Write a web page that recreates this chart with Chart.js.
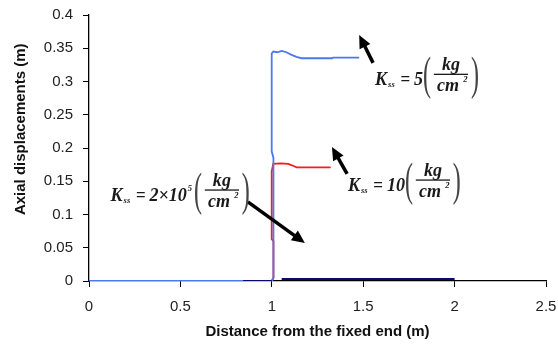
<!DOCTYPE html>
<html>
<head>
<meta charset="utf-8">
<script src="https://cdn.jsdelivr.net/npm/chart.js@4"></script>
<style>
html,body{margin:0;padding:0;background:#fff;}
#wrap{width:558px;height:345px;position:relative;}
</style>
</head>
<body>
<div id="wrap"><canvas id="c" width="558" height="345"></canvas></div>
<script>
// ---- data ----
const xTicks = [0, 0.5, 1, 1.5, 2, 2.5];
const yTicks = [0, 0.05, 0.1, 0.15, 0.2, 0.25, 0.3, 0.35, 0.4];

// K_ss = 5 kg/cm2 (blue)
const blueX = [0, 1.0, 1.009, 1.009, 0.9995, 0.9995, 1.008, 1.03, 1.054, 1.08, 1.108, 1.135, 1.163, 1.25, 1.33, 1.335, 1.478];
const blueY = [0, 0, 0.005, 0.185, 0.195, 0.342, 0.345, 0.344, 0.346, 0.344, 0.340, 0.337, 0.335, 0.335, 0.335, 0.336, 0.336];

// K_ss = 10 kg/cm2 (red)
const redX = [0, 1.0, 1.009, 1.009, 0.9995, 0.9995, 1.008, 1.05, 1.09, 1.11, 1.136, 1.2, 1.322];
const redY = [0, 0, 0.005, 0.06, 0.063, 0.165, 0.176, 0.177, 0.176, 0.174, 0.171, 0.171, 0.171];

// K_ss = 2x10^5 kg/cm2 (navy)
const navyX = [0.843, 1.0, 1.03, 1.054, 2.0];
const navyY = [0, 0, null, 0.003, 0.003];

// annotation anchors (data coordinates)
const eqAnchors = [
  {x: 1.565, y: 0.311, val: '5', exp: ''},
  {x: 1.417, y: 0.152, val: '10', exp: ''},
  {x: 0.118, y: 0.137, val: '2\u00D710', exp: '5'}
];
const arrows = [
  {x1: 1.554, y1: 0.328, x2: 1.478, y2: 0.370},
  {x1: 1.412, y1: 0.161, x2: 1.329, y2: 0.2015},
  {x1: 0.869, y1: 0.119, x2: 1.181, y2: 0.057}
];

function pts(xs, ys) { return xs.map((x, i) => ({x: x, y: ys[i]})); }

const SX = 0.95;
function drawEq(ctx, x0, yb, val, exp) {
  ctx.save();
  ctx.translate(x0, yb);
  ctx.scale(SX, 1);
  ctx.fillStyle = '#1a1a1a';
  ctx.textBaseline = 'alphabetic';
  ctx.textAlign = 'left';
  let x = 0;
  const big = 'italic bold 19px "Liberation Serif"';
  const small = 'italic bold 9px "Liberation Serif"';
  ctx.font = big;
  ctx.fillText('K', x, 11); x += ctx.measureText('K').width + 1;
  ctx.font = small;
  ctx.fillText('ss', x, 13); x += ctx.measureText('ss').width + 6;
  ctx.font = 'bold 18px "Liberation Serif"';
  ctx.fillText('=', x, 11); x += ctx.measureText('=').width + 4;
  ctx.font = big;
  ctx.fillText(val, x, 11); x += ctx.measureText(val).width;
  if (exp) {
    ctx.font = small;
    ctx.fillText(exp, x + 1, 1); x += ctx.measureText(exp).width + 3;
  }
  // left paren
  ctx.fillStyle = '#444';
  ctx.save();
  ctx.translate(x, 0);
  ctx.scale(0.55, 1);
  ctx.font = '46px "Liberation Serif"';
  ctx.fillText('(', 0, 15);
  const pw = ctx.measureText('(').width * 0.55;
  ctx.restore();
  x += pw + 3;
  // fraction
  ctx.fillStyle = '#1a1a1a';
  const fw = 36;
  ctx.fillRect(x, -0.5, fw, 1.3);
  ctx.font = big;
  ctx.textAlign = 'center';
  ctx.fillText('kg', x + fw / 2, -4);
  ctx.fillText('cm', x + fw / 2 - 3, 17);
  ctx.font = small;
  ctx.textAlign = 'left';
  ctx.fillText('2', x + fw / 2 + 13, 8);
  x += fw + 3;
  ctx.fillStyle = '#444';
  ctx.save();
  ctx.translate(x, 0);
  ctx.scale(0.55, 1);
  ctx.font = '46px "Liberation Serif"';
  ctx.fillText(')', 0, 15);
  ctx.restore();
  ctx.restore();
}

function drawArrow(ctx, x1, y1, x2, y2) {
  const a = Math.atan2(y2 - y1, x2 - x1);
  const L = 13, W = 6;
  const bx = x2 - L * Math.cos(a), by = y2 - L * Math.sin(a);
  ctx.save();
  ctx.strokeStyle = '#000';
  ctx.fillStyle = '#000';
  ctx.lineWidth = 3.5;
  ctx.beginPath();
  ctx.moveTo(x1, y1);
  ctx.lineTo(bx + 2 * Math.cos(a), by + 2 * Math.sin(a));
  ctx.stroke();
  ctx.beginPath();
  ctx.moveTo(x2, y2);
  ctx.lineTo(bx + W * Math.sin(a), by - W * Math.cos(a));
  ctx.lineTo(bx - W * Math.sin(a), by + W * Math.cos(a));
  ctx.closePath();
  ctx.fill();
  ctx.restore();
}

const annotPlugin = {
  id: 'annot',
  afterDatasetsDraw(chart) {
    const ctx = chart.ctx;
    const xs = chart.scales.x, ys = chart.scales.y;
    arrows.forEach(a => drawArrow(ctx, xs.getPixelForValue(a.x1), ys.getPixelForValue(a.y1),
                                     xs.getPixelForValue(a.x2), ys.getPixelForValue(a.y2)));
    eqAnchors.forEach(e => drawEq(ctx, xs.getPixelForValue(e.x), ys.getPixelForValue(e.y), e.val, e.exp));
  }
};

new Chart(document.getElementById('c'), {
  type: 'line',
  data: {
    datasets: [
      {label: 'Kss = 2x10^5', data: pts(navyX, navyY), borderColor: '#0a0a6e', borderWidth: 2.2, spanGaps: false},
      {label: 'Kss = 5', data: pts(blueX, blueY), borderColor: '#4a78f5', borderWidth: 1.8},
      {label: 'Kss = 10', data: pts(redX, redY), borderColor: '#ff1a1a', borderWidth: 1.8}
    ]
  },
  options: {
    responsive: false,
    animation: false,
    devicePixelRatio: 1,
    parsing: true,
    elements: {point: {radius: 0}, line: {tension: 0, fill: false}},
    layout: {padding: {left: 0, top: 15, right: 12, bottom: 0}},
    plugins: {legend: {display: false}, tooltip: {enabled: false}},
    scales: {
      x: {
        type: 'linear', min: 0, max: 2.5,
        afterBuildTicks: s => { s.ticks = xTicks.map(v => ({value: v})); },
        afterFit: s => { s.height = 64; s.paddingLeft = 0; s.paddingRight = 0; },
        grid: {display: true, drawOnChartArea: false, drawTicks: true, tickLength: 6, color: '#000', tickColor: '#000'},
        border: {display: true, color: '#000', width: 1.3},
        ticks: {color: '#222', padding: 11, maxRotation: 0, font: {family: '"Liberation Sans", Arial', size: 15},
                callback: v => String(v)},
        title: {display: true, text: 'Distance from the fixed end (m)', color: '#111',
                font: {family: '"Liberation Sans", Arial', size: 15, weight: 'bold'}, padding: {top: 0, bottom: 4}}
      },
      y: {
        type: 'linear', min: 0, max: 0.4,
        afterBuildTicks: s => { s.ticks = yTicks.map(v => ({value: v})); },
        afterFit: s => { s.width = 89; s.paddingTop = 0; s.paddingBottom = 0; },
        grid: {display: true, drawOnChartArea: false, drawTicks: true, tickLength: 6, color: '#000', tickColor: '#000'},
        border: {display: true, color: '#000', width: 1.3},
        ticks: {color: '#222', padding: 10, font: {family: '"Liberation Sans", Arial', size: 15},
                callback: v => String(v)},
        title: {display: true, text: '         Axial displacements (m)', color: '#111',
                font: {family: '"Liberation Sans", Arial', size: 15, weight: 'bold'}, padding: {top: 12, bottom: 0}}
      }
    }
  },
  plugins: [annotPlugin]
});
</script>
</body>
</html>
